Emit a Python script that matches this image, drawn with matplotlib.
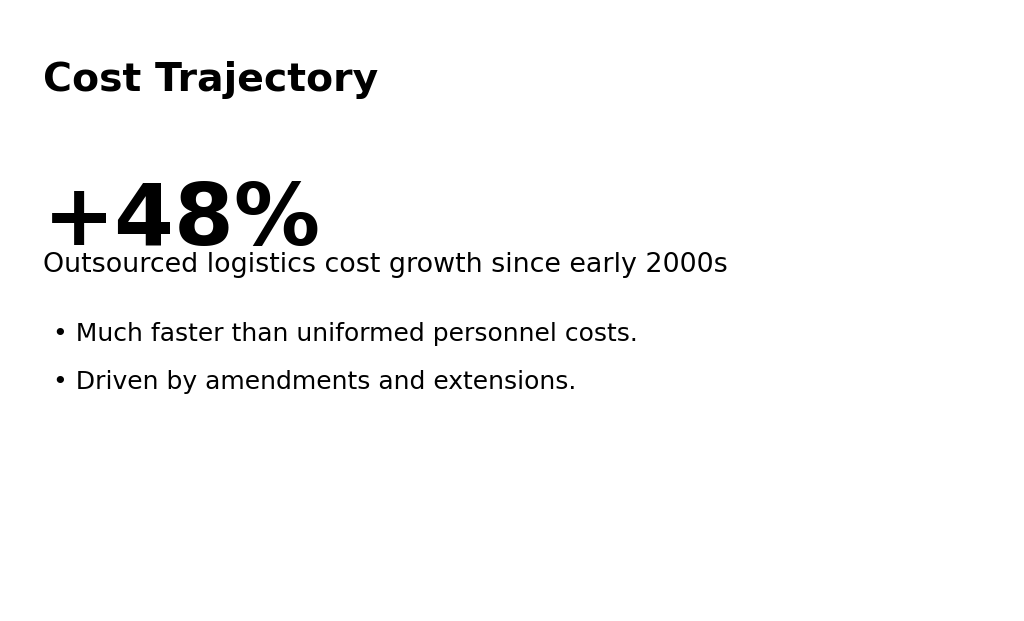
import matplotlib
matplotlib.use("Agg")
import matplotlib.pyplot as plt

title = "Cost Trajectory"
headline = "+48%"
subtitle = "Outsourced logistics cost growth since early 2000s"
bullets = [
    "Much faster than uniformed personnel costs.",
    "Driven by amendments and extensions.",
]

W, H = 1024, 621
fig = plt.figure(figsize=(W / 100, H / 100), dpi=100)
fig.patch.set_facecolor("white")


def put(x, y, s, **kw):
    # x, y in pixels from top-left, y is the text baseline
    fig.text(x / W, 1 - y / H, s, va="baseline", ha="left",
             family="DejaVu Sans", color="black", **kw)


put(43, 91, title, fontsize=28.4, fontweight="bold")
put(43, 245, headline, fontsize=62, fontweight="bold")
# the reference has the subtitle tucked right under the big number
put(43, 272, subtitle, fontsize=19.4)
for i, b in enumerate(bullets):
    put(53, 341 + 48 * i, "\u2022 " + b, fontsize=18)

fig.savefig("out.png", dpi=100, facecolor="white")
